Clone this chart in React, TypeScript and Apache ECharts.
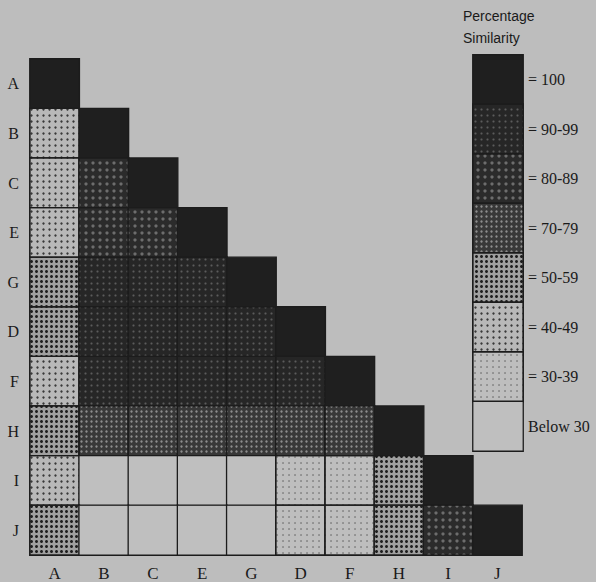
import React, { useEffect, useRef } from "react";
import * as echarts from "echarts";

const taxa = ["A", "B", "C", "E", "G", "D", "F", "H", "I", "J"];

// similarity classes, lowest to highest
const classes = ["Below 30", "30-39", "40-49", "50-59", "70-79", "80-89", "90-99", "100"];
const legendLabels = ["= 100", "= 90-99", "= 80-89", "= 70-79", "= 50-59", "= 40-49", "= 30-39", "Below 30"];
const legendClasses = ["100", "90-99", "80-89", "70-79", "50-59", "40-49", "30-39", "Below 30"];

// lower triangle, row by row (row taxon vs column taxon)
const rowA = ["100"];
const rowB = ["40-49", "100"];
const rowC = ["40-49", "80-89", "100"];
const rowE = ["40-49", "80-89", "80-89", "100"];
const rowG = ["50-59", "90-99", "90-99", "90-99", "100"];
const rowD = ["50-59", "90-99", "90-99", "90-99", "90-99", "100"];
const rowF = ["40-49", "90-99", "90-99", "90-99", "90-99", "90-99", "100"];
const rowH = ["50-59", "70-79", "70-79", "70-79", "70-79", "70-79", "70-79", "100"];
const rowI = ["40-49", "Below 30", "Below 30", "Below 30", "Below 30", "30-39", "30-39", "50-59", "100"];
const rowJ = ["50-59", "Below 30", "Below 30", "Below 30", "Below 30", "30-39", "30-39", "50-59", "80-89", "100"];
const matrix = [rowA, rowB, rowC, rowE, rowG, rowD, rowF, rowH, rowI, rowJ];

const fills: Record<string, string> = {
  "100": "#1f1f1f",
  "90-99": "#262626",
  "80-89": "#2b2b2b",
  "70-79": "#383838",
  "50-59": "#a0a0a0",
  "40-49": "#b8b8b8",
  "30-39": "#bebebe",
  "Below 30": "#bfbfbf",
};

const decals: Record<string, any> = {
  "90-99": { symbol: "circle", symbolSize: 0.7, color: "rgba(200,200,200,0.33)", dashArrayX: [3, 2.5], dashArrayY: [3, 2.5] },
  "80-89": { symbol: "circle", symbolSize: 0.8, color: "rgba(200,200,200,0.42)", dashArrayX: [3.5, 2.5], dashArrayY: [3.5, 2.5] },
  "70-79": { symbol: "circle", symbolSize: 0.8, color: "rgba(210,210,210,0.55)", dashArrayX: [3, 2], dashArrayY: [3, 2] },
  "50-59": { symbol: "circle", symbolSize: 1, color: "rgba(15,15,15,0.9)", dashArrayX: [3, 2], dashArrayY: [3, 2] },
  "40-49": { symbol: "circle", symbolSize: 0.8, color: "rgba(25,25,25,0.8)", dashArrayX: [2.5, 3], dashArrayY: [2.5, 3] },
  "30-39": { symbol: "circle", symbolSize: 0.7, color: "rgba(40,40,40,0.7)", dashArrayX: [2, 4], dashArrayY: [2, 4] },
};

const serif = "'Liberation Serif', 'DejaVu Serif', serif";

function item(x: number, y: number, cls: string) {
  const style: any = {
    borderColor: "#1c1c1c",
    borderWidth: 1.3,
  };
  if (decals[cls]) style.decal = decals[cls];
  return { value: [x, y, classes.indexOf(cls)], itemStyle: style };
}

export default function App() {
  const ref = useRef<HTMLDivElement>(null);
  useEffect(() => {
    if (!ref.current) return;
    const chart = echarts.init(ref.current, null, { renderer: "svg" });
    const mainData: any[] = [];
    matrix.forEach((row, r) => row.forEach((cls, c) => mainData.push(item(c, r, cls))));
    const legendData = legendClasses.map((cls, i) => item(0, i, cls));
    chart.setOption({
      animation: false,
      backgroundColor: "#bdbdbd",
      visualMap: {
        type: "piecewise",
        show: false,
        dimension: 2,
        seriesIndex: [0, 1],
        pieces: classes.map((cls, i) => ({ value: i, color: fills[cls] })),
      },
      graphic: [
        {
          type: "text",
          left: 463,
          top: 5,
          style: {
            text: "Percentage\nSimilarity",
            fontFamily: "'Liberation Sans', Arial, sans-serif",
            fontSize: 14,
            lineHeight: 22,
            fill: "#1a1a1a",
            align: "center",
            x: 37,
          },
        },
      ],
      grid: [
        { left: 30, top: 59, width: 492, height: 496 },
        { left: 473, top: 55, width: 50, height: 396 },
      ],
      xAxis: [
        {
          type: "category",
          gridIndex: 0,
          data: taxa,
          position: "bottom",
          axisLine: { show: false },
          axisTick: { show: false },
          splitLine: { show: false },
          axisLabel: { fontFamily: serif, fontSize: 17, color: "#1a1a1a", margin: 10 },
        },
        {
          type: "category",
          gridIndex: 1,
          data: [""],
          show: false,
        },
      ],
      yAxis: [
        {
          type: "category",
          gridIndex: 0,
          data: taxa,
          inverse: true,
          axisLine: { show: false },
          axisTick: { show: false },
          splitLine: { show: false },
          axisLabel: { fontFamily: serif, fontSize: 16, color: "#1a1a1a", margin: 11 },
        },
        {
          type: "category",
          gridIndex: 1,
          data: legendLabels,
          inverse: true,
          position: "right",
          axisLine: { show: false },
          axisTick: { show: false },
          splitLine: { show: false },
          axisLabel: { fontFamily: serif, fontSize: 16, color: "#1a1a1a", margin: 5, align: "left" },
        },
      ],
      series: [
        {
          type: "heatmap",
          xAxisIndex: 0,
          yAxisIndex: 0,
          data: mainData,
          emphasis: { disabled: true },
        },
        {
          type: "heatmap",
          xAxisIndex: 1,
          yAxisIndex: 1,
          data: legendData,
          emphasis: { disabled: true },
        },
      ],
    });
    return () => chart.dispose();
  }, []);
  return (
    <div
      ref={ref}
      style={{ position: "fixed", left: 0, top: 0, width: 596, height: 582 }}
    />
  );
}
